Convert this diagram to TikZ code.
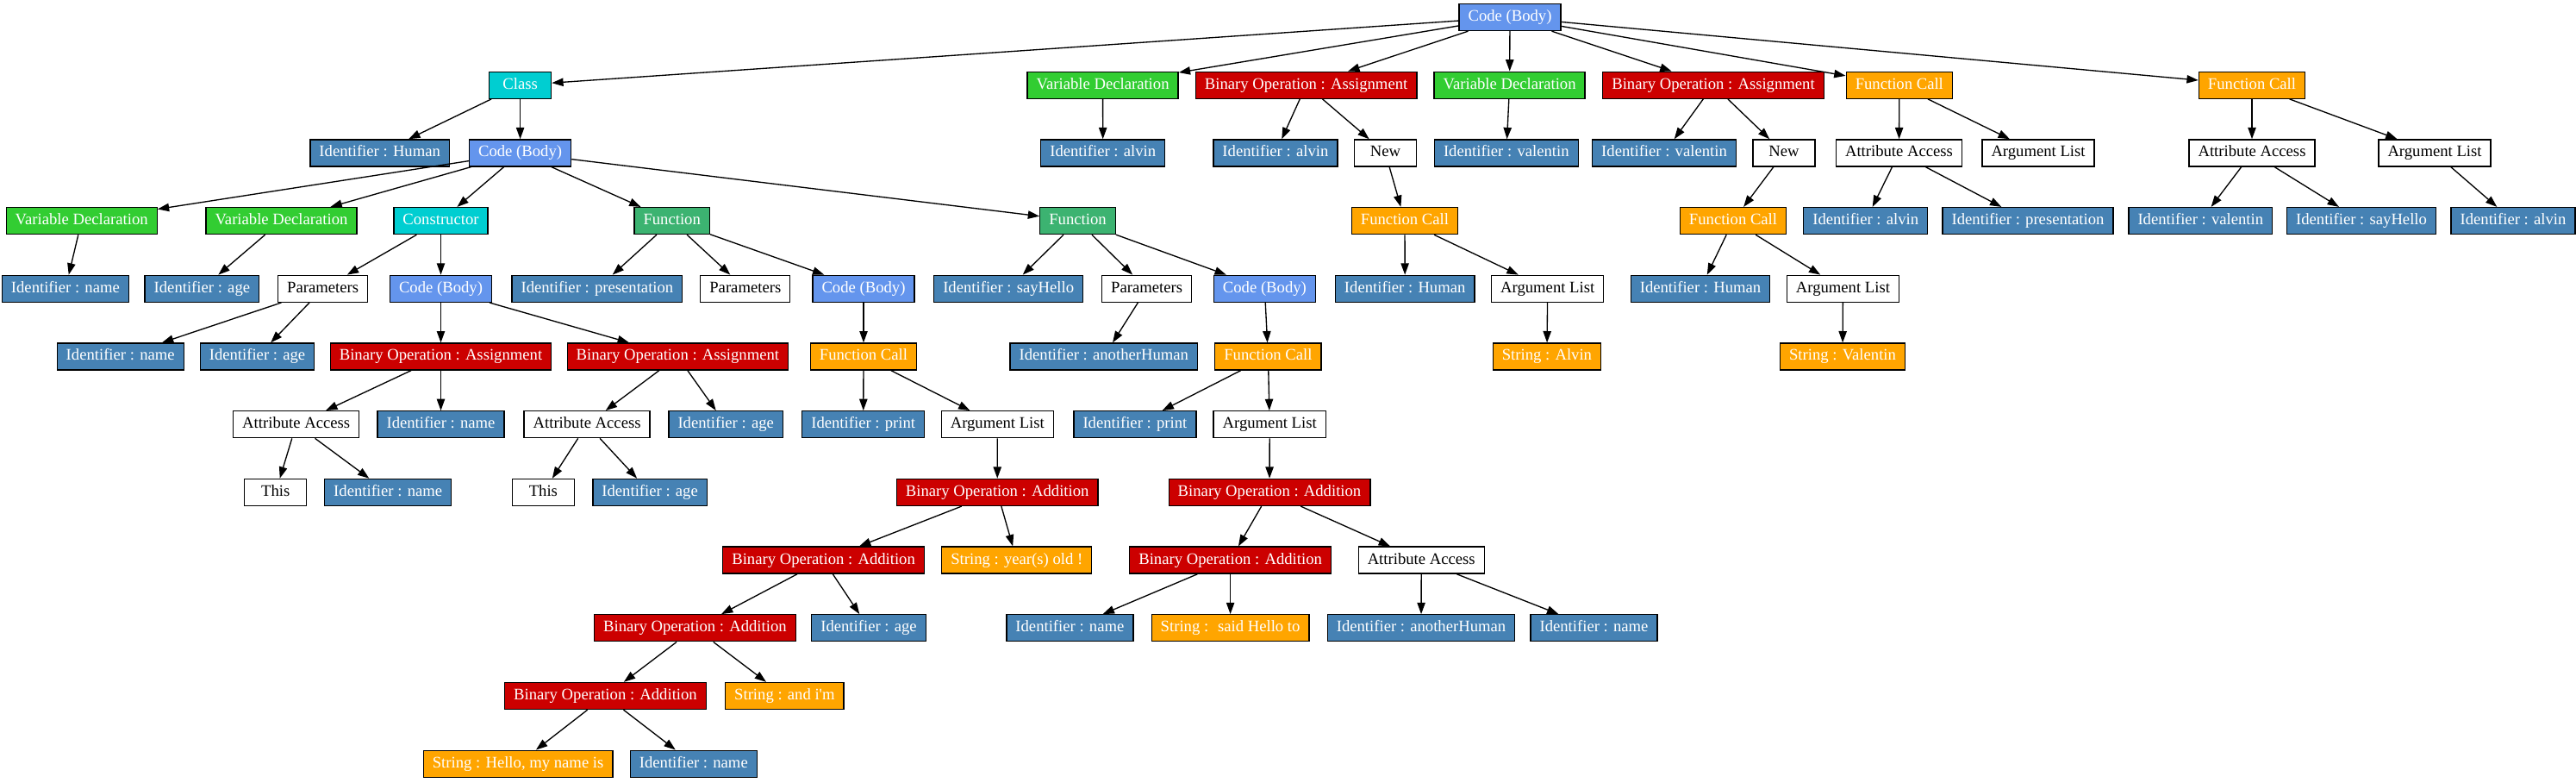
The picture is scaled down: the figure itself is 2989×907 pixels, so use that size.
\documentclass[tikz,border=0pt]{standalone}
\usepackage{fontspec}
\setmainfont{Liberation Serif}
\usetikzlibrary{arrows.meta}
\definecolor{codeblue}{HTML}{6495ED}
\definecolor{turq}{HTML}{00CED1}
\definecolor{limeg}{HTML}{32CD32}
\definecolor{binred}{HTML}{CC0000}
\definecolor{fngreen}{HTML}{3CB371}
\definecolor{orng}{HTML}{FFA500}
\definecolor{steel}{HTML}{4682B4}
\tikzset{
  box/.style={draw=black, line width=1pt, rectangle, minimum width=54pt, minimum height=23.25pt,
    inner xsep=7.9pt, inner ysep=0pt, text height=9.8pt, text depth=3.1pt,
    font=\fontsize{14pt}{16pt}\selectfont, text=white},
  idn/.style={box, fill=steel},
  codeb/.style={box, fill=codeblue},
  turqb/.style={box, fill=turq},
  vardec/.style={box, fill=limeg},
  binop/.style={box, fill=binred},
  fnb/.style={box, fill=fngreen},
  orb/.style={box, fill=orng},
  plainb/.style={box, fill=white, text=black},
  edge/.style={-{Triangle[length=10pt,width=7pt]}, line width=1pt, black},
}
\begin{document}
\begin{tikzpicture}[x=0.75pt,y=-0.75pt]
\useasboundingbox (0,0) rectangle (2989,907);
% rank 0
\node[codeb] (r) at (1752,20) {Code (Body)};
% rank 1
\node[turqb] (cls) at (603.6,98.7) {Class};
\node[vardec] (vd1) at (1279.6,98.7) {Variable Declaration};
\node[binop] (ba1) at (1515.6,98.7) {Binary Operation : Assignment};
\node[vardec] (vd2) at (1751.6,98.7) {Variable Declaration};
\node[binop] (ba2) at (1988,98.7) {Binary Operation : Assignment};
\node[orb] (fc1) at (2203.8,98.7) {Function Call};
\node[orb] (fc2) at (2613,98.7) {Function Call};
% rank 2
\node[idn] (idh1) at (440.7,177.4) {Identifier : Human};
\node[codeb] (cb1) at (603.6,177.4) {Code (Body)};
\node[idn] (ida1) at (1279.7,177.4) {Identifier : alvin};
\node[idn] (ida2) at (1479.9,177.4) {Identifier : alvin};
\node[plainb] (new1) at (1607.5,177.4) {New};
\node[idn] (idv1) at (1747.8,177.4) {Identifier : valentin};
\node[idn] (idv2) at (1931,177.4) {Identifier : valentin};
\node[plainb] (new2) at (2070,177.4) {New};
\node[plainb] (aa1) at (2203.5,177.4) {Attribute Access};
\node[plainb] (al1) at (2365,177.4) {Argument List};
\node[plainb] (aa2) at (2613,177.4) {Attribute Access};
\node[plainb] (al2) at (2825,177.4) {Argument List};
% rank 3
\node[vardec] (vd3) at (94.7,256.1) {Variable Declaration};
\node[vardec] (vd4) at (326.5,256.1) {Variable Declaration};
\node[turqb] (ctor) at (511.5,256.1) {Constructor};
\node[fnb] (fn1) at (779.7,256.1) {Function};
\node[fnb] (fn2) at (1250.5,256.1) {Function};
\node[orb] (fc3) at (1630,256.1) {Function Call};
\node[orb] (fc4) at (2011,256.1) {Function Call};
\node[idn] (ida3) at (2164.7,256.1) {Identifier : alvin};
\node[idn] (idp1) at (2353,256.1) {Identifier : presentation};
\node[idn] (idv3) at (2553.3,256.1) {Identifier : valentin};
\node[idn] (ids1) at (2740,256.1) {Identifier : sayHello};
\node[idn] (ida4) at (2916,256.1) {Identifier : alvin};
% rank 4
\node[idn] (idn1) at (75.9,334.8) {Identifier : name};
\node[idn] (idg1) at (234.4,334.8) {Identifier : age};
\node[plainb] (par1) at (374.7,334.8) {Parameters};
\node[codeb] (cb2) at (511.5,334.8) {Code (Body)};
\node[idn] (idp2) at (692.9,334.8) {Identifier : presentation};
\node[plainb] (par2) at (864.8,334.8) {Parameters};
\node[codeb] (cb3) at (1002,334.8) {Code (Body)};
\node[idn] (ids2) at (1170.2,334.8) {Identifier : sayHello};
\node[plainb] (par3) at (1330.6,334.8) {Parameters};
\node[codeb] (cb4) at (1467.4,334.8) {Code (Body)};
\node[idn] (idh2) at (1630.2,334.8) {Identifier : Human};
\node[plainb] (al3) at (1795.7,334.8) {Argument List};
\node[idn] (idh3) at (1973,334.8) {Identifier : Human};
\node[plainb] (al4) at (2138.4,334.8) {Argument List};
% rank 5
\node[idn] (idn2) at (139.7,413.5) {Identifier : name};
\node[idn] (idg2) at (298.5,413.5) {Identifier : age};
\node[binop] (ba3) at (511.5,413.5) {Binary Operation : Assignment};
\node[binop] (ba4) at (786.4,413.5) {Binary Operation : Assignment};
\node[orb] (fc5) at (1002,413.5) {Function Call};
\node[idn] (idah1) at (1280.8,413.5) {Identifier : anotherHuman};
\node[orb] (fc6) at (1471.4,413.5) {Function Call};
\node[orb] (salv) at (1794.9,413.5) {String : Alvin};
\node[orb] (sval) at (2138,413.5) {String : Valentin};
% rank 6
\node[plainb] (aa3) at (343.7,492.2) {Attribute Access};
\node[idn] (idn3) at (511.5,492.2) {Identifier : name};
\node[plainb] (aa4) at (681.1,492.2) {Attribute Access};
\node[idn] (idg3) at (842.2,492.2) {Identifier : age};
\node[idn] (idpr1) at (1001.7,492.2) {Identifier : print};
\node[plainb] (al5) at (1157.3,492.2) {Argument List};
\node[idn] (idpr2) at (1316.9,492.2) {Identifier : print};
\node[plainb] (al6) at (1473.2,492.2) {Argument List};
% rank 7
\node[plainb] (this1) at (319.8,570.9) {This};
\node[idn] (idn4) at (450.2,570.9) {Identifier : name};
\node[plainb] (this2) at (630.4,570.9) {This};
\node[idn] (idg4) at (754.1,570.9) {Identifier : age};
\node[binop] (bd1) at (1157.2,570.9) {Binary Operation : Addition};
\node[binop] (bd2) at (1473,570.9) {Binary Operation : Addition};
% rank 8
\node[binop] (bd3) at (955.6,649.6) {Binary Operation : Addition};
\node[orb] (syear) at (1179.8,649.6) {String : year(s) old !};
\node[binop] (bd4) at (1427.6,649.6) {Binary Operation : Addition};
\node[plainb] (aa5) at (1649.2,649.6) {Attribute Access};
% rank 9
\node[binop] (bd5) at (806.4,728.3) {Binary Operation : Addition};
\node[idn] (idg5) at (1008,728.3) {Identifier : age};
\node[idn] (idn5) at (1241.4,728.3) {Identifier : name};
\node[orb] (ssaid) at (1427.6,728.3) {String : \ said Hello to};
\node[idn] (idah2) at (1649,728.3) {Identifier : anotherHuman};
\node[idn] (idn6) at (1849.5,728.3) {Identifier : name};
% rank 10
\node[binop] (bd6) at (702.5,807) {Binary Operation : Addition};
\node[orb] (sand) at (910.4,807) {String : and i\textquotesingle m};
% rank 11
\node[orb] (shello) at (601.1,885.7) {String : Hello, my name is};
\node[idn] (idn7) at (804.8,885.7) {Identifier : name};
% edges
\foreach \a/\b in {r/cls, r/vd1, r/ba1, r/vd2, r/ba2, r/fc1, r/fc2,
  cls/idh1, cls/cb1,
  cb1/vd3, cb1/vd4, cb1/ctor, cb1/fn1, cb1/fn2,
  vd3/idn1, vd4/idg1,
  ctor/par1, ctor/cb2,
  par1/idn2, par1/idg2,
  cb2/ba3, cb2/ba4,
  ba3/aa3, ba3/idn3, aa3/this1, aa3/idn4,
  ba4/aa4, ba4/idg3, aa4/this2, aa4/idg4,
  fn1/idp2, fn1/par2, fn1/cb3,
  cb3/fc5, fc5/idpr1, fc5/al5, al5/bd1,
  bd1/bd3, bd1/syear, bd3/bd5, bd3/idg5, bd5/bd6, bd5/sand, bd6/shello, bd6/idn7,
  fn2/ids2, fn2/par3, fn2/cb4, par3/idah1, cb4/fc6,
  fc6/idpr2, fc6/al6, al6/bd2, bd2/bd4, bd2/aa5, bd4/idn5, bd4/ssaid, aa5/idah2, aa5/idn6,
  vd1/ida1, ba1/ida2, ba1/new1, new1/fc3, fc3/idh2, fc3/al3, al3/salv,
  vd2/idv1, ba2/idv2, ba2/new2, new2/fc4, fc4/idh3, fc4/al4, al4/sval,
  fc1/aa1, fc1/al1, aa1/ida3, aa1/idp1,
  fc2/aa2, fc2/al2, aa2/idv3, aa2/ids1, al2/ida4}
  \draw[edge] (\a) -- (\b);
\end{tikzpicture}
\end{document}
